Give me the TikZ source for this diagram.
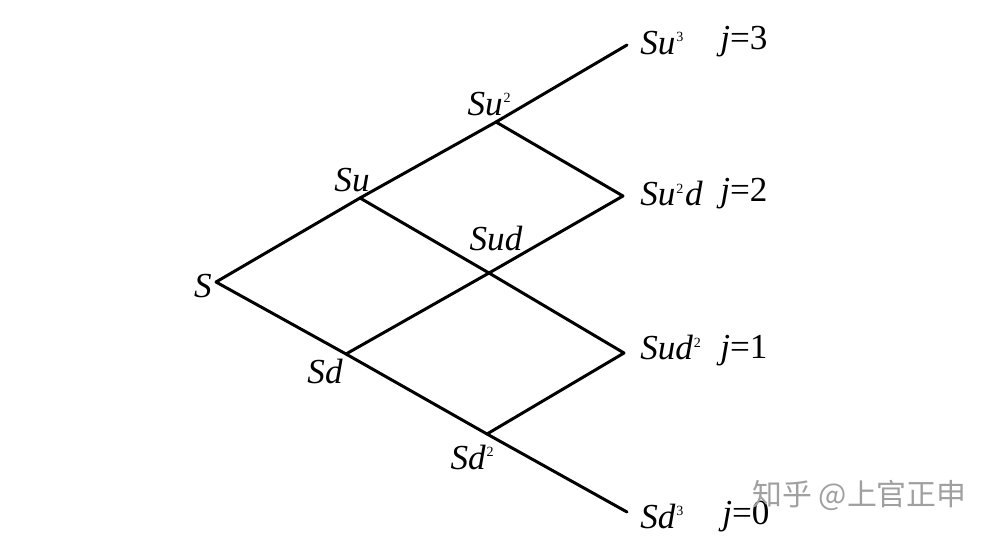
\documentclass[tikz,border=0pt]{standalone}
\usepackage{fontspec}
\setmainfont{Liberation Serif}
\newfontfamily\cjk{Noto Sans CJK SC}
\usepackage{xcolor}
\definecolor{cLine}{HTML}{000000}
\definecolor{cMark}{HTML}{A0A0A0}
\usetikzlibrary{positioning}
\newcommand\pw[1]{\kern0.5pt\raisebox{0.8ex}{\upshape\fontsize{8}{8}\selectfont #1}\kern1pt}
\tikzset{
  tree-edge/.style={draw=cLine,line width=1.7pt,line cap=round},
  node-lbl/.style={font=\fontsize{20}{24}\selectfont\itshape,inner sep=0pt},
  node-leaf/.style={node-lbl,anchor=west},
  node-j/.style={font=\fontsize{20}{24}\selectfont,inner sep=0pt,anchor=west},
  node-mark/.style={font=\cjk\fontsize{17}{20}\selectfont,text=cMark,inner sep=0pt,anchor=west},
}

\begin{document}
\begin{tikzpicture}[x=0.02cm,y=-0.02cm]
  \useasboundingbox (0,0) rectangle (988,538);
  % vertices of the tree
  \coordinate (s) at (216,282);
  \coordinate (su) at (360,198);
  \coordinate (sd) at (346,354);
  \coordinate (suu) at (496,122);
  \coordinate (sud) at (489,273);
  \coordinate (sdd) at (487,434);
  \coordinate (suuu) at (627,45);
  \coordinate (suud) at (623,196);
  \coordinate (sudd) at (624,353);
  \coordinate (sddd) at (627,512);
  % branches
  \draw[tree-edge] (s) -- (su);
  \draw[tree-edge] (s) -- (sd);
  \draw[tree-edge] (su) -- (suu);
  \draw[tree-edge] (su) -- (sud);
  \draw[tree-edge] (sd) -- (sud);
  \draw[tree-edge] (sd) -- (sdd);
  \draw[tree-edge] (suu) -- (suuu);
  \draw[tree-edge] (suu) -- (suud);
  \draw[tree-edge] (sud) -- (suud);
  \draw[tree-edge] (sud) -- (sudd);
  \draw[tree-edge] (sdd) -- (sudd);
  \draw[tree-edge] (sdd) -- (sddd);
  % labels
  \node[node-lbl] (l-s) at (203,286) {S};
  \node[node-lbl] (l-su) at (352,180) {Su};
  \node[node-lbl] (l-sd) at (325,371) {Sd};
  \node[node-lbl] (l-suu) at (490,104) {Su\pw{2}};
  \node[node-lbl] (l-sud) at (496,239) {Sud};
  \node[node-lbl] (l-sdd) at (473,457) {Sd\pw{2}};
  \node[node-leaf] (l-suuu) at (640,43) {Su\pw{3}};
  \node[node-leaf] (l-suud) at (640,194) {Su\pw{2}d};
  \node[node-leaf] (l-sudd) at (640,348) {Sud\pw{2}};
  \node[node-leaf] (l-sddd) at (640,516) {Sd\pw{3}};
  \node[node-j] (j3) at (720,42) {\textit{j}=3};
  \node[node-j] (j2) at (720,194) {\textit{j}=2};
  \node[node-j] (j1) at (720,351) {\textit{j}=1};
  \node[node-j] (j0) at (722,517) {\textit{j}=0};
  \node[node-mark] (mark) at (752,495) {知乎 @上官正申};
\end{tikzpicture}
\end{document}
